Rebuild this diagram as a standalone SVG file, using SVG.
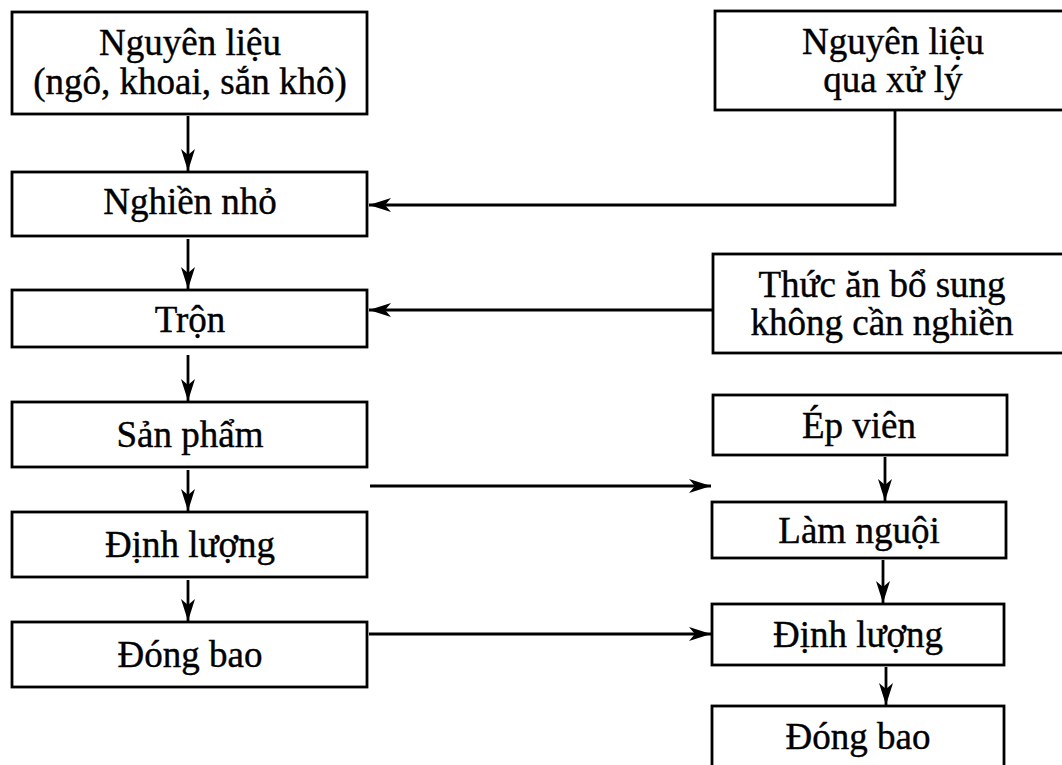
<svg xmlns="http://www.w3.org/2000/svg" width="1062" height="765" viewBox="0 0 1062 765">
<defs>
<marker id="ah" markerUnits="userSpaceOnUse" markerWidth="24" markerHeight="16" refX="22" refY="8" orient="auto">
<path d="M0,1 L22,8 L0,15 L6,8 Z" fill="#000"/>
</marker>
<style>
.box{fill:#fff;stroke:#000;stroke-width:2.8}
.t{font-family:"Liberation Serif","Times New Roman",serif;font-size:37px;fill:#000;stroke:#000;stroke-width:0.4;text-anchor:middle}
.c{fill:none;stroke:#000;stroke-width:2.8;marker-end:url(#ah)}
</style>
</defs>
<rect width="1062" height="765" fill="#fff"/>
<g id="connectors">
<path class="c" d="M188,116 V171"/>
<path class="c" d="M188,239 V289"/>
<path class="c" d="M188,355 V401"/>
<path class="c" d="M188,470 V511"/>
<path class="c" d="M188,580 V621"/>
<path class="c" d="M895,111 V205 H369"/>
<path class="c" d="M713,310 H369"/>
<path class="c" d="M370,486 H711"/>
<path class="c" d="M369,634 H711"/>
<path class="c" d="M885,457 V501"/>
<path class="c" d="M883,560 V603"/>
<path class="c" d="M886,667 V705"/>
</g>
<g id="n-nguyenlieu">
<rect class="box" x="12" y="12" width="355" height="102"/>
<text class="t" x="190" y="55">Nguyên liệu</text>
<text class="t" x="190" y="94">(ngô, khoai, sắn khô)</text>
</g>
<g id="n-nguyenlieu-xuly">
<rect class="box" x="715" y="11" width="360" height="99"/>
<text class="t" x="893" y="54">Nguyên liệu</text>
<text class="t" x="893" y="92">qua xử lý</text>
</g>
<g id="n-nghiennho">
<rect class="box" x="12" y="172" width="355" height="64"/>
<text class="t" x="190" y="214">Nghiền nhỏ</text>
</g>
<g id="n-tron">
<rect class="box" x="12" y="290" width="355" height="57"/>
<text class="t" x="190" y="332">Trộn</text>
</g>
<g id="n-thucan">
<rect class="box" x="713" y="254" width="362" height="99"/>
<text class="t" x="882" y="297">Thức ăn bổ sung</text>
<text class="t" x="882" y="335">không cần nghiền</text>
</g>
<g id="n-sanpham">
<rect class="box" x="12" y="402" width="355" height="65"/>
<text class="t" x="190" y="447">Sản phẩm</text>
</g>
<g id="n-dinhluong-1">
<rect class="box" x="12" y="512" width="355" height="65"/>
<text class="t" x="190" y="557">Định lượng</text>
</g>
<g id="n-dongbao-1">
<rect class="box" x="12" y="622" width="355" height="65"/>
<text class="t" x="190" y="667">Đóng bao</text>
</g>
<g id="n-epvien">
<rect class="box" x="713" y="395" width="294" height="60"/>
<text class="t" x="859" y="438">Ép viên</text>
</g>
<g id="n-lamnguoi">
<rect class="box" x="712" y="502" width="294" height="56"/>
<text class="t" x="859" y="543">Làm nguội</text>
</g>
<g id="n-dinhluong-2">
<rect class="box" x="712" y="604" width="292" height="61"/>
<text class="t" x="858" y="647">Định lượng</text>
</g>
<g id="n-dongbao-2">
<rect class="box" x="712" y="706" width="292" height="80"/>
<text class="t" x="858" y="749">Đóng bao</text>
</g>
</svg>
